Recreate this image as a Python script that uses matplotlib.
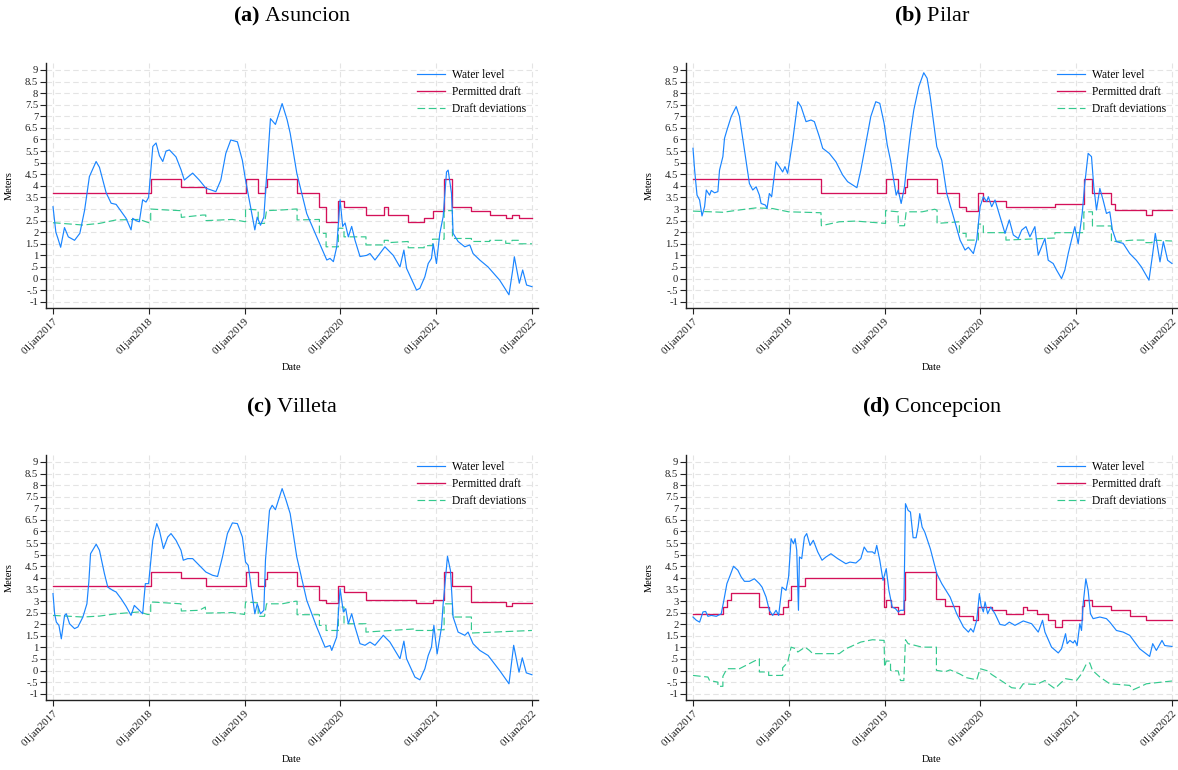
import numpy as np
import matplotlib
matplotlib.use("Agg")
import matplotlib.pyplot as plt

plt.rcParams['font.family'] = ['Liberation Serif', 'DejaVu Serif']
plt.rcParams['mathtext.fontset'] = 'custom'
plt.rcParams['mathtext.rm'] = 'Liberation Serif'
plt.rcParams['mathtext.bf'] = 'Liberation Serif:bold'

# x values are decimal years (2017.0 = 01jan2017)

# ---- (a) Asuncion
asu_wl_t = [2017.0, 2017.03, 2017.05, 2017.08, 2017.12, 2017.16, 2017.225, 2017.28, 2017.33, 2017.38,
            2017.45, 2017.485, 2017.555, 2017.607, 2017.659, 2017.711, 2017.763, 2017.815, 2017.832, 2017.867,
            2017.901, 2017.936, 2017.971, 2017.998, 2018.042, 2018.076, 2018.111, 2018.146, 2018.18, 2018.215,
            2018.284, 2018.336, 2018.371, 2018.458, 2018.527, 2018.596, 2018.70, 2018.752, 2018.804, 2018.856,
            2018.925, 2018.977, 2019.01, 2019.062, 2019.107, 2019.132, 2019.166, 2019.201, 2019.236, 2019.27,
            2019.322, 2019.392, 2019.444, 2019.476, 2019.545, 2019.649, 2019.753, 2019.858, 2019.892, 2019.927,
            2019.962, 2019.997, 2020.024, 2020.049, 2020.083, 2020.118, 2020.153, 2020.205, 2020.274, 2020.309,
            2020.361, 2020.465, 2020.552, 2020.622, 2020.663, 2020.691, 2020.795, 2020.83, 2020.882, 2020.917,
            2020.951, 2020.969, 2021.003, 2021.038, 2021.073, 2021.108, 2021.125, 2021.16, 2021.177, 2021.229,
            2021.299, 2021.351, 2021.385, 2021.455, 2021.542, 2021.663, 2021.76, 2021.799, 2021.816, 2021.868,
            2021.903, 2021.944, 2022.0]
asu_wl_v = [3.1, 2.0, 1.75, 1.35, 2.2, 1.8, 1.65, 1.95, 2.95, 4.4,
            5.05, 4.8, 3.7, 3.25, 3.2, 2.9, 2.6, 2.1, 2.6, 2.5,
            2.45, 3.4, 3.3, 3.5, 5.7, 5.85, 5.3, 5.05, 5.5, 5.55,
            5.25, 4.7, 4.25, 4.55, 4.25, 3.9, 3.75, 4.25, 5.4, 5.98,
            5.9, 5.1, 4.25, 3.1, 2.1, 2.65, 2.3, 2.65, 4.8, 6.9,
            6.65, 7.55, 6.85, 6.27, 4.55, 2.8, 1.8, 0.8, 0.87, 0.73,
            1.37, 3.4, 2.25, 2.4, 1.8, 2.25, 1.65, 0.95, 1.0, 1.08,
            0.8, 1.37, 1.0, 0.5, 1.23, 0.44, -0.5, -0.42, 0.08, 0.65,
            0.87, 1.5, 0.65, 1.95, 2.67, 4.6, 4.68, 3.68, 1.95, 1.6,
            1.37, 1.45, 1.08, 0.8, 0.5, -0.07, -0.7, 0.37, 0.94, -0.2,
            0.37, -0.28, -0.35]
asu_pd_t = [2017.0, 2018.02, 2018.34, 2018.595, 2019.01, 2019.142, 2019.208, 2019.229, 2019.548, 2019.781,
            2019.851, 2019.979, 2020.038, 2020.267, 2020.458, 2020.5, 2020.708, 2020.875, 2020.962, 2021.083,
            2021.17, 2021.368, 2021.559, 2021.726, 2021.792, 2021.865, 2022.0]
asu_pd_v = [3.67, 4.28, 3.96, 3.67, 4.28, 3.67, 3.96, 4.28, 3.67, 3.07,
            2.45, 3.36, 3.07, 2.74, 3.07, 2.74, 2.45, 2.6, 2.91, 4.28,
            3.07, 2.91, 2.74, 2.6, 2.74, 2.6, 2.6]
asu_dd_t = [2017.0, 2017.312, 2017.485, 2017.659, 2017.901, 2018.0, 2018.02, 2018.02, 2018.18, 2018.336,
            2018.34, 2018.562, 2018.595, 2018.595, 2018.873, 2019.01, 2019.01, 2019.142, 2019.142, 2019.208,
            2019.229, 2019.392, 2019.53, 2019.548, 2019.548, 2019.781, 2019.781, 2019.851, 2019.851, 2019.979,
            2019.979, 2020.038, 2020.038, 2020.267, 2020.267, 2020.458, 2020.458, 2020.5, 2020.5, 2020.708,
            2020.708, 2020.875, 2020.875, 2020.962, 2020.962, 2021.083, 2021.083, 2021.17, 2021.17, 2021.368,
            2021.368, 2021.559, 2021.559, 2021.726, 2021.726, 2021.792, 2021.792, 2021.865, 2021.865, 2022.0]
asu_dd_v = [2.41, 2.31, 2.38, 2.53, 2.55, 2.41, 2.41, 3.0, 2.96, 2.93,
            2.64, 2.74, 2.74, 2.5, 2.55, 2.45, 3.0, 2.96, 2.38, 2.38,
            2.93, 2.96, 3.0, 3.0, 2.53, 2.55, 1.95, 1.95, 1.37, 1.37,
            2.17, 2.17, 1.8, 1.8, 1.45, 1.45, 1.65, 1.65, 1.55, 1.6,
            1.33, 1.33, 1.42, 1.42, 1.7, 1.7, 2.93, 2.93, 1.73, 1.73,
            1.6, 1.6, 1.65, 1.65, 1.52, 1.52, 1.65, 1.65, 1.5, 1.5]

# ---- (b) Pilar
pil_wl_t = [2017.0, 2017.017, 2017.042, 2017.069, 2017.094, 2017.121, 2017.139, 2017.173, 2017.191, 2017.225,
            2017.26, 2017.277, 2017.312, 2017.329, 2017.354, 2017.399, 2017.451, 2017.485, 2017.537, 2017.589,
            2017.624, 2017.659, 2017.693, 2017.711, 2017.756, 2017.773, 2017.797, 2017.821, 2017.867, 2017.901,
            2017.936, 2017.96, 2017.988, 2018.042, 2018.094, 2018.128, 2018.18, 2018.232, 2018.267, 2018.319,
            2018.354, 2018.423, 2018.492, 2018.562, 2018.614, 2018.666, 2018.711, 2018.752, 2018.804, 2018.856,
            2018.908, 2018.95, 2018.995, 2019.028, 2019.062, 2019.087, 2019.121, 2019.142, 2019.173, 2019.208,
            2019.236, 2019.27, 2019.305, 2019.357, 2019.409, 2019.444, 2019.476, 2019.545, 2019.597, 2019.649,
            2019.719, 2019.788, 2019.84, 2019.875, 2019.927, 2019.962, 2019.997, 2020.031, 2020.066, 2020.083,
            2020.118, 2020.153, 2020.205, 2020.257, 2020.302, 2020.344, 2020.396, 2020.431, 2020.476, 2020.517,
            2020.569, 2020.604, 2020.639, 2020.674, 2020.708, 2020.76, 2020.795, 2020.847, 2020.882, 2020.917,
            2020.951, 2020.986, 2021.021, 2021.063, 2021.09, 2021.125, 2021.16, 2021.184, 2021.212, 2021.247,
            2021.281, 2021.316, 2021.351, 2021.378, 2021.42, 2021.49, 2021.559, 2021.628, 2021.681, 2021.76,
            2021.799, 2021.826, 2021.875, 2021.91, 2021.955, 2022.0]
pil_wl_v = [5.62, 4.68, 3.6, 3.39, 2.7, 3.1, 3.82, 3.6, 3.8, 3.7,
            3.75, 4.68, 5.26, 6.05, 6.4, 6.99, 7.42, 6.99, 5.55, 4.1,
            3.82, 3.96, 3.6, 3.24, 3.17, 3.03, 3.67, 3.53, 5.04, 4.83,
            4.6, 4.83, 4.54, 5.98, 7.63, 7.42, 6.77, 6.84, 6.77, 6.12,
            5.62, 5.4, 5.04, 4.47, 4.18, 4.04, 3.92, 4.68, 5.83, 6.99,
            7.63, 7.56, 6.7, 5.76, 5.1, 4.47, 3.6, 3.82, 3.24, 3.96,
            5.1, 6.27, 7.27, 8.28, 8.88, 8.64, 7.85, 5.69, 5.1, 3.67,
            2.67, 1.66, 1.23, 1.35, 1.08, 1.66, 3.1, 3.53, 3.32, 3.53,
            3.1, 3.39, 2.67, 1.95, 2.53, 1.88, 1.73, 2.09, 2.24, 1.8,
            2.24, 1.01, 1.37, 1.73, 0.79, 0.65, 0.37, 0.0, 0.37, 1.08,
            1.66, 2.24, 1.5, 2.81, 4.1, 5.4, 5.26, 3.96, 2.96, 3.89,
            3.39, 2.81, 2.88, 2.1, 1.59, 1.52, 1.08, 0.79, 0.5, -0.07,
            1.08, 1.95, 0.72, 1.59, 0.79, 0.65]
pil_pd_t = [2017.0, 2018.34, 2019.01, 2019.142, 2019.208, 2019.229, 2019.548, 2019.781, 2019.851, 2019.979,
            2020.031, 2020.267, 2020.778, 2021.08, 2021.17, 2021.368, 2021.403, 2021.726, 2021.792, 2022.0]
pil_pd_v = [4.28, 3.67, 4.28, 3.67, 3.96, 4.28, 3.67, 3.07, 2.91, 3.67,
            3.36, 3.07, 3.2, 4.28, 3.67, 3.2, 2.96, 2.74, 2.96, 2.96]
pil_dd_t = [2017.0, 2017.312, 2017.485, 2017.659, 2017.832, 2017.998, 2018.336, 2018.34, 2018.527, 2018.7,
            2019.01, 2019.01, 2019.142, 2019.142, 2019.208, 2019.225, 2019.392, 2019.523, 2019.548, 2019.548,
            2019.781, 2019.781, 2019.851, 2019.851, 2019.979, 2019.979, 2020.031, 2020.031, 2020.267, 2020.267,
            2020.778, 2020.778, 2021.08, 2021.08, 2021.17, 2021.17, 2021.368, 2021.368, 2021.6, 2021.726,
            2021.726, 2021.792, 2021.792, 2022.0]
pil_dd_v = [2.91, 2.86, 2.96, 3.05, 3.02, 2.88, 2.84, 2.28, 2.45, 2.48,
            2.38, 2.93, 2.88, 2.28, 2.28, 2.88, 2.88, 2.99, 2.95, 2.38,
            2.45, 1.95, 1.95, 1.66, 1.66, 2.35, 2.35, 1.98, 1.98, 1.66,
            1.75, 1.98, 1.98, 2.88, 2.88, 2.27, 2.27, 1.59, 1.66, 1.66,
            1.55, 1.55, 1.66, 1.62]

# ---- (c) Villeta
vil_wl_t = [2017.0, 2017.017, 2017.035, 2017.062, 2017.087, 2017.121, 2017.139, 2017.173, 2017.225, 2017.26,
            2017.312, 2017.354, 2017.374, 2017.392, 2017.451, 2017.485, 2017.537, 2017.572, 2017.624, 2017.659,
            2017.711, 2017.763, 2017.815, 2017.849, 2017.901, 2017.936, 2017.964, 2017.998, 2018.042, 2018.083,
            2018.111, 2018.153, 2018.198, 2018.232, 2018.284, 2018.336, 2018.36, 2018.406, 2018.458, 2018.527,
            2018.596, 2018.666, 2018.718, 2018.769, 2018.821, 2018.873, 2018.925, 2018.977, 2019.01, 2019.038,
            2019.073, 2019.107, 2019.132, 2019.166, 2019.201, 2019.218, 2019.26, 2019.288, 2019.322, 2019.392,
            2019.433, 2019.476, 2019.545, 2019.649, 2019.753, 2019.84, 2019.892, 2019.91, 2019.962, 2019.997,
            2020.031, 2020.056, 2020.083, 2020.118, 2020.153, 2020.205, 2020.257, 2020.309, 2020.361, 2020.448,
            2020.517, 2020.622, 2020.663, 2020.691, 2020.778, 2020.83, 2020.882, 2020.917, 2020.951, 2020.976,
            2021.01, 2021.056, 2021.073, 2021.118, 2021.149, 2021.177, 2021.229, 2021.299, 2021.333, 2021.385,
            2021.455, 2021.542, 2021.663, 2021.76, 2021.809, 2021.865, 2021.899, 2021.941, 2022.0]
vil_wl_v = [3.32, 2.45, 2.09, 1.95, 1.37, 2.38, 2.45, 2.02, 1.81, 1.88,
            2.31, 2.88, 3.82, 5.04, 5.45, 5.19, 4.18, 3.6, 3.46, 3.39,
            3.1, 2.77, 2.38, 2.81, 2.6, 2.45, 3.75, 3.75, 5.62, 6.34,
            6.05, 5.26, 5.76, 5.91, 5.62, 5.19, 4.76, 4.83, 4.83, 4.54,
            4.25, 4.11, 4.06, 4.9, 5.91, 6.37, 6.34, 5.76, 4.68, 4.54,
            3.46, 2.45, 2.88, 2.45, 2.6, 4.76, 6.91, 7.13, 6.94, 7.85,
            7.35, 6.77, 4.9, 3.03, 1.88, 1.01, 1.08, 0.87, 1.45, 3.53,
            2.53, 2.67, 2.02, 2.45, 1.88, 1.16, 1.09, 1.23, 1.09, 1.52,
            1.23, 0.51, 1.27, 0.51, -0.28, -0.4, 0.08, 0.65, 1.01, 1.95,
            0.72, 1.88, 2.88, 4.93, 4.32, 2.31, 1.66, 1.52, 1.66, 1.16,
            0.87, 0.65, 0.0, -0.57, 1.09, -0.07, 0.55, -0.1, -0.18]
vil_pd_t = [2017.0, 2018.02, 2018.34, 2018.595, 2019.01, 2019.142, 2019.208, 2019.229, 2019.548, 2019.781,
            2019.851, 2019.979, 2020.038, 2020.267, 2020.788, 2020.962, 2021.083, 2021.17, 2021.368, 2021.726,
            2021.792, 2022.0]
vil_pd_v = [3.66, 4.25, 3.99, 3.66, 4.25, 3.66, 3.96, 4.25, 3.66, 3.06,
            2.92, 3.66, 3.37, 3.06, 2.92, 3.06, 4.25, 3.66, 2.96, 2.77,
            2.92, 2.92]
vil_dd_t = [2017.0, 2017.312, 2017.485, 2017.659, 2017.901, 2017.988, 2018.02, 2018.02, 2018.18, 2018.336,
            2018.34, 2018.527, 2018.59, 2018.595, 2018.873, 2019.0, 2019.01, 2019.142, 2019.142, 2019.208,
            2019.229, 2019.392, 2019.53, 2019.548, 2019.548, 2019.781, 2019.781, 2019.851, 2019.851, 2019.979,
            2019.979, 2020.038, 2020.038, 2020.267, 2020.267, 2020.788, 2020.788, 2020.962, 2020.962, 2021.083,
            2021.083, 2021.17, 2021.17, 2021.368, 2021.368, 2022.0]
vil_dd_v = [2.38, 2.31, 2.35, 2.45, 2.53, 2.42, 2.42, 2.96, 2.92, 2.88,
            2.57, 2.6, 2.74, 2.48, 2.5, 2.42, 2.96, 2.92, 2.34, 2.34,
            2.88, 2.88, 2.99, 2.99, 2.41, 2.41, 1.95, 1.95, 1.73, 1.73,
            2.74, 2.74, 2.02, 2.02, 1.66, 1.8, 1.73, 1.73, 1.76, 1.76,
            2.88, 2.88, 2.31, 2.31, 1.62, 1.73]

# ---- (d) Concepcion
con_wl_t = [2017.0, 2017.035, 2017.069, 2017.104, 2017.132, 2017.156, 2017.191, 2017.243, 2017.295, 2017.319,
            2017.354, 2017.388, 2017.423, 2017.468, 2017.503, 2017.537, 2017.589, 2017.641, 2017.693, 2017.721,
            2017.763, 2017.797, 2017.832, 2017.867, 2017.894, 2017.929, 2017.971, 2017.998, 2018.024, 2018.049,
            2018.066, 2018.083, 2018.101, 2018.111, 2018.135, 2018.163, 2018.187, 2018.222, 2018.256, 2018.302,
            2018.347, 2018.388, 2018.44, 2018.51, 2018.596, 2018.638, 2018.7, 2018.752, 2018.787, 2018.821,
            2018.873, 2018.898, 2018.918, 2018.95, 2018.984, 2019.017, 2019.045, 2019.08, 2019.114, 2019.142,
            2019.166, 2019.201, 2019.218, 2019.246, 2019.27, 2019.298, 2019.329, 2019.35, 2019.367, 2019.392,
            2019.419, 2019.478, 2019.545, 2019.597, 2019.684, 2019.753, 2019.823, 2019.875, 2019.899, 2019.927,
            2019.962, 2019.99, 2020.007, 2020.031, 2020.049, 2020.076, 2020.108, 2020.153, 2020.205, 2020.257,
            2020.302, 2020.361, 2020.448, 2020.535, 2020.604, 2020.649, 2020.674, 2020.743, 2020.813, 2020.847,
            2020.889, 2020.906, 2020.934, 2020.969, 2020.986, 2021.01, 2021.038, 2021.056, 2021.073, 2021.101,
            2021.125, 2021.149, 2021.177, 2021.247, 2021.316, 2021.351, 2021.42, 2021.49, 2021.559, 2021.663,
            2021.767, 2021.799, 2021.837, 2021.896, 2021.924, 2022.0]
con_wl_v = [2.31, 2.17, 2.09, 2.53, 2.55, 2.34, 2.38, 2.34, 2.45, 2.96,
            3.75, 4.11, 4.5, 4.33, 4.04, 3.85, 3.85, 3.96, 3.75, 3.6,
            3.17, 2.6, 2.38, 2.6, 2.38, 3.6, 3.46, 4.04, 5.69, 5.47,
            5.69, 5.19, 2.6, 4.9, 4.83, 5.76, 5.91, 5.4, 5.62, 5.12,
            4.76, 4.9, 5.04, 4.83, 4.61, 4.68, 4.64, 4.83, 5.33, 5.12,
            5.12, 5.04, 5.4, 4.76, 3.89, 4.4, 3.46, 2.74, 2.67, 2.53,
            2.6, 2.6, 7.2, 6.91, 6.84, 5.73, 5.73, 6.19, 6.77, 6.19,
            5.98, 5.25, 4.18, 3.75, 3.17, 2.45, 1.88, 1.66, 1.81, 1.66,
            2.17, 3.32, 2.81, 2.53, 2.96, 2.45, 2.74, 2.45, 1.99, 1.95,
            2.09, 1.95, 2.14, 2.02, 1.66, 2.17, 1.66, 1.01, 0.76, 0.94,
            1.59, 1.16, 1.3, 1.19, 1.3, 1.08, 2.02, 1.73, 2.88, 3.96,
            3.46, 2.45, 2.24, 2.31, 2.24, 2.09, 1.73, 1.66, 1.52, 0.94,
            0.61, 1.16, 0.87, 1.3, 1.08, 1.04]
con_pd_t = [2017.0, 2017.312, 2017.354, 2017.399, 2017.693, 2017.79, 2017.936, 2017.988, 2018.024, 2018.17,
            2018.995, 2019.017, 2019.062, 2019.142, 2019.201, 2019.218, 2019.541, 2019.632, 2019.781, 2019.927,
            2019.979, 2020.118, 2020.267, 2020.448, 2020.49, 2020.587, 2020.708, 2020.778, 2020.847, 2021.056,
            2021.08, 2021.17, 2021.368, 2021.559, 2021.726, 2022.0]
con_pd_v = [2.45, 2.74, 3.06, 3.35, 2.74, 2.45, 2.74, 3.06, 3.66, 3.99,
            2.74, 3.06, 2.74, 2.45, 3.06, 4.25, 3.1, 2.77, 2.35, 2.17,
            2.74, 2.6, 2.45, 2.74, 2.6, 2.45, 2.17, 1.86, 2.17, 2.77,
            3.06, 2.77, 2.6, 2.35, 2.17, 2.17]
con_dd_t = [2017.0, 2017.156, 2017.173, 2017.26, 2017.26, 2017.312, 2017.312, 2017.354, 2017.485, 2017.589,
            2017.659, 2017.693, 2017.693, 2017.79, 2017.79, 2017.936, 2017.936, 2017.988, 2018.024, 2018.076,
            2018.094, 2018.17, 2018.215, 2018.25, 2018.527, 2018.596, 2018.752, 2018.873, 2018.995, 2019.0,
            2019.017, 2019.062, 2019.062, 2019.142, 2019.166, 2019.201, 2019.218, 2019.246, 2019.392, 2019.541,
            2019.541, 2019.632, 2019.684, 2019.781, 2019.858, 2019.962, 2019.997, 2020.066, 2020.118, 2020.267,
            2020.326, 2020.413, 2020.448, 2020.587, 2020.674, 2020.708, 2020.778, 2020.83, 2020.889, 2020.962,
            2021.003, 2021.056, 2021.108, 2021.142, 2021.17, 2021.247, 2021.351, 2021.559, 2021.594, 2021.698,
            2021.733, 2022.0]
con_dd_v = [-0.21, -0.28, -0.43, -0.5, -0.68, -0.68, -0.25, 0.08, 0.08, 0.3,
            0.45, 0.51, -0.06, -0.06, -0.21, -0.21, 0.12, 0.35, 1.01, 0.94,
            0.8, 1.01, 0.87, 0.73, 0.73, 0.94, 1.23, 1.33, 1.3, 0.15,
            0.41, 0.41, 0.01, -0.02, -0.43, -0.43, 1.33, 1.16, 1.01, 1.01,
            0.01, -0.05, 0.03, -0.14, -0.31, -0.4, 0.08, 0.0, -0.17, -0.57,
            -0.74, -0.78, -0.57, -0.6, -0.43, -0.57, -0.78, -0.57, -0.35, -0.4,
            -0.43, -0.14, 0.3, 0.33, 0.01, -0.28, -0.57, -0.64, -0.83, -0.64,
            -0.57, -0.45]

year_ticks = [2017, 2018, 2019, 2020, 2021, 2022]
year_labels = ["01jan2017", "01jan2018", "01jan2019", "01jan2020", "01jan2021", "01jan2022"]
y_ticks = np.arange(-1, 9.01, 0.5)


def stata_fmt(v):
    s = f"{v:g}"
    return s.replace("0.", ".")


panels = [
    ("(a)", "Asuncion", asu_wl_t, asu_wl_v, asu_pd_t, asu_pd_v, asu_dd_t, asu_dd_v),
    ("(b)", "Pilar", pil_wl_t, pil_wl_v, pil_pd_t, pil_pd_v, pil_dd_t, pil_dd_v),
    ("(c)", "Villeta", vil_wl_t, vil_wl_v, vil_pd_t, vil_pd_v, vil_dd_t, vil_dd_v),
    ("(d)", "Concepcion", con_wl_t, con_wl_v, con_pd_t, con_pd_v, con_dd_t, con_dd_v),
]

W, H = 1178, 770
fig = plt.figure(figsize=(W / 100, H / 100), dpi=100)

# axes boxes in pixels: left, top, right, bottom
boxes = [(46, 63, 538, 308), (686, 63, 1178, 308), (46, 455, 538, 700), (686, 455, 1178, 700)]
title_y = [16, 407]

blue = "#1a85ff"
red = "#d41159"
green = "#34c98e"

for i, (tag, name, wt, wv, pt, pv, dt, dv) in enumerate(panels):
    l, t, r, b = boxes[i]
    ax = fig.add_axes([l / W, 1 - b / H, (r - l) / W, (b - t) / H])
    ax.plot(wt, wv, color=blue, lw=0.85, label="Water level", zorder=3)
    ax.plot(pt, pv, color=red, lw=0.95, drawstyle="steps-post", label="Permitted draft", zorder=2)
    ax.plot(dt, dv, color=green, lw=0.85, dashes=(6.5, 3), label="Draft deviations", zorder=2)

    ax.set_xlim(2016.927, 2022.063)
    ax.set_ylim(-1.27, 9.3)
    ax.set_yticks(y_ticks)
    ax.set_yticklabels([stata_fmt(v) for v in y_ticks])
    ax.set_xticks(year_ticks)
    ax.set_xticklabels(year_labels, rotation=45, ha="right", rotation_mode="anchor")
    ax.tick_params(axis="y", labelsize=7.7, length=4, width=0.8, pad=1.5, colors="#222222")
    ax.tick_params(axis="x", labelsize=8, length=4, width=0.8, pad=2, colors="#222222")
    ax.grid(True, color="#e4e4e4", lw=0.8, linestyle=(0, (5, 3)), zorder=0)
    for s in ["top", "right"]:
        ax.spines[s].set_visible(False)
    for s in ["left", "bottom"]:
        ax.spines[s].set_linewidth(1.0)
        ax.spines[s].set_color("#222222")

    ax.set_ylabel("Meters", fontsize=7.5)
    ax.yaxis.set_label_coords(-37 / (r - l), 0.5)
    ax.yaxis.label.set_va("center")
    ax.set_xlabel("Date", fontsize=7.5)
    ax.xaxis.set_label_coords(0.5, -59 / (b - t))
    ax.xaxis.label.set_va("center")

    ax.legend(loc="upper left", bbox_to_anchor=(0.755, 0.975), frameon=False, fontsize=8.3,
              handlelength=2.4, handletextpad=0.6, labelspacing=0.45, borderpad=0, borderaxespad=0)

    fig.text((l + r) / 2 / W, 1 - title_y[i // 2] / H, r"$\mathbf{" + tag + "}$ " + name,
             ha="center", va="center", fontsize=16)

fig.savefig("out.png", dpi=100)
